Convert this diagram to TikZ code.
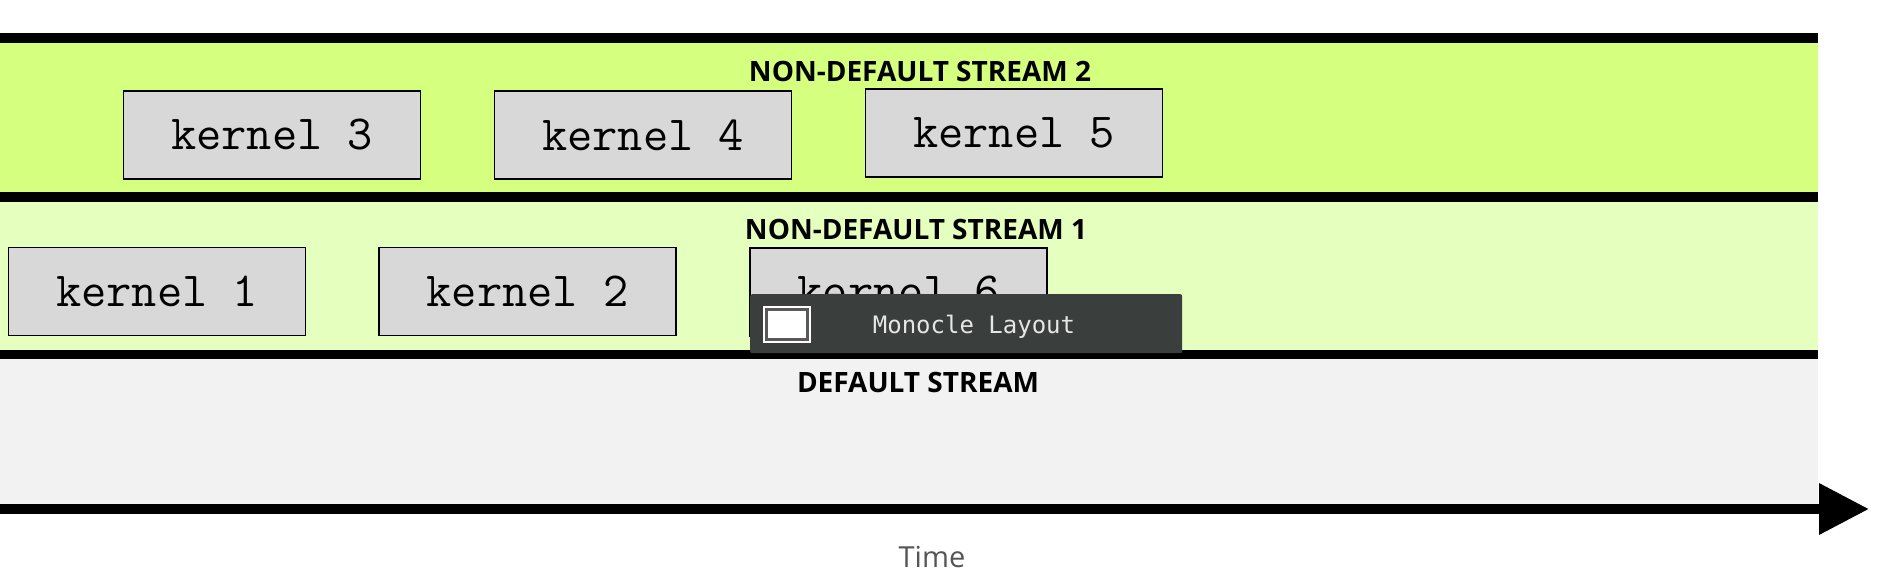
\documentclass[tikz,border=0pt]{standalone}
\usepackage{fontspec}
\setmainfont{Open Sans}
\newfontfamily\tmono{DejaVu Sans Mono}
\usetikzlibrary{arrows.meta}
\definecolor{bandtwo}{RGB}{212,255,127}
\definecolor{bandone}{RGB}{229,255,191}
\definecolor{bandzero}{RGB}{242,242,242}
\definecolor{kfill}{RGB}{216,216,216}
\definecolor{tipbg}{RGB}{58,62,60}
\definecolor{tiptext}{RGB}{230,230,230}
\definecolor{timegray}{RGB}{85,85,85}
\begin{document}
\begin{tikzpicture}[x=1pt,y=-1pt,
  sepline/.style={line width=9.5pt, black},
  kbox/.style={draw=black, line width=1.4pt, fill=kfill, minimum width=297pt, minimum height=88pt, inner sep=0pt, font=\ttfamily\fontsize{49}{51}\selectfont},
  header/.style={anchor=base, inner sep=0pt, font=\fontsize{28}{30}\selectfont\bfseries},
  axisline/.style={line width=10pt, -{Triangle[length=50pt,width=49pt]}}
]
\useasboundingbox (0,0) rectangle (1893,582);
% bands
\fill[bandtwo] (0,43) rectangle (1818,193);
\fill[bandone] (0,201) rectangle (1818,350);
\fill[bandzero] (0,359) rectangle (1818,504);
% separators
\draw[sepline] (0,38) -- (1818,38);
\draw[sepline] (0,197) -- (1818,197);
\draw[sepline] (0,354.5) -- (1818,354.5);
% headers
\node[header] (h2) at (920,81) {NON-DEFAULT STREAM 2};
\node[header] (h1) at (916,239) {NON-DEFAULT STREAM 1};
\node[header] (h0) at (918,392.5) {DEFAULT STREAM};
% kernels
\node[kbox] (k3) at (272,135) {kernel 3};
\node[kbox] (k4) at (643,135) {kernel 4};
\node[kbox] (k5) at (1014,133) {kernel 5};
\node[kbox] (k1) at (157,291.5) {kernel 1};
\node[kbox] (k2) at (527.5,291.5) {kernel 2};
\node[kbox] (k6) at (898.5,292) {kernel 6};
% tooltip overlay
\node[fill=tipbg, rounded corners=2pt, minimum width=432pt, minimum height=59pt, inner sep=0pt, anchor=north west] (tip) at (750,294) {};
\node[draw=white, line width=1pt, fill=white, minimum width=47pt, minimum height=36pt, inner sep=0pt] (icon) at (787,324) {};
\node[draw=gray!70!black, line width=3pt, minimum width=41pt, minimum height=30pt, inner sep=0pt] (iconin) at (icon.center) {};
\node[anchor=base, inner sep=0pt, text=tiptext, font=\tmono\fontsize{24}{26}\selectfont] (tiplabel) at (974,333) {Monocle Layout};
% time axis
\coordinate (axstart) at (0,509);
\coordinate (axend) at (1869,509);
\draw[axisline] (axstart) -- (axend);
\node[anchor=base, inner sep=0pt, text=timegray, font=\fontsize{29}{31}\selectfont] (time) at (932,567) {Time};
\end{tikzpicture}
\end{document}
